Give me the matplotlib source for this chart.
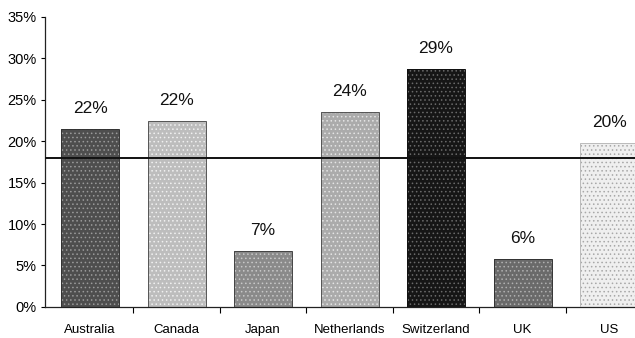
import matplotlib
matplotlib.use("Agg")
import matplotlib.pyplot as plt
from matplotlib.ticker import FixedLocator, PercentFormatter

countries = ["Australia", "Canada", "Japan", "Netherlands", "Switzerland", "UK", "US"]
values = [21.5, 22.4, 6.7, 23.5, 28.7, 5.8, 19.8]
benchmark = 18.0
y_ticks = [0, 5, 10, 15, 20, 25, 30, 35]

bar_colors = ["#4e4e4e", "#bdbdbd", "#8a8a8a", "#ababab", "#161616", "#6a6a6a", "#efefef"]
hatch_colors = ["#9a9a9a", "#f0f0f0", "#c8c8c8", "#e4e4e4", "#6a6a6a", "#b0b0b0", "#a8a8a8"]
edge_colors = ["#333333", "#555555", "#444444", "#555555", "#111111", "#333333", "#bbbbbb"]

plt.rcParams["font.family"] = ["Liberation Sans", "DejaVu Sans"]
plt.rcParams["hatch.linewidth"] = 0.6

fig = plt.figure(figsize=(6.35, 3.38), dpi=100)
ax = fig.add_axes([0.071, 0.092, 0.929, 0.858])

x = list(range(len(countries)))
for xi, v, fc, hc, ec in zip(x, values, bar_colors, hatch_colors, edge_colors):
    ax.bar(xi, v, width=0.67, color=fc, edgecolor=hc, hatch="....", linewidth=0, zorder=2)
    ax.bar(xi, v, width=0.67, color="none", edgecolor=ec, linewidth=0.7, zorder=3)
    ax.text(xi, v + 2.5, f"{v:.0f}%", ha="center", va="center", fontsize=12.5, color="#111111")

ax.axhline(benchmark, color="#111111", linewidth=1.4, zorder=4)

# the category band runs slightly past the right edge of the figure
ax.set_xlim(-0.52, 6.30)
ax.set_ylim(0, 35)
ax.set_yticks(y_ticks)
ax.yaxis.set_major_formatter(PercentFormatter(decimals=0))
ax.set_xticks(x)
ax.set_xticklabels(countries)
ax.xaxis.set_minor_locator(FixedLocator([i + 0.5 for i in x[:-1]]))

ax.tick_params(axis="x", which="major", length=0, pad=12, labelsize=9.5)
ax.tick_params(axis="x", which="minor", length=4, width=0.8, direction="out")
ax.tick_params(axis="y", length=3, width=0.8, direction="out", labelsize=10.5, pad=3)

for side in ("top", "right"):
    ax.spines[side].set_visible(False)
for side in ("left", "bottom"):
    ax.spines[side].set_linewidth(0.9)
    ax.spines[side].set_color("#222222")

fig.savefig("out.png", dpi=100)
